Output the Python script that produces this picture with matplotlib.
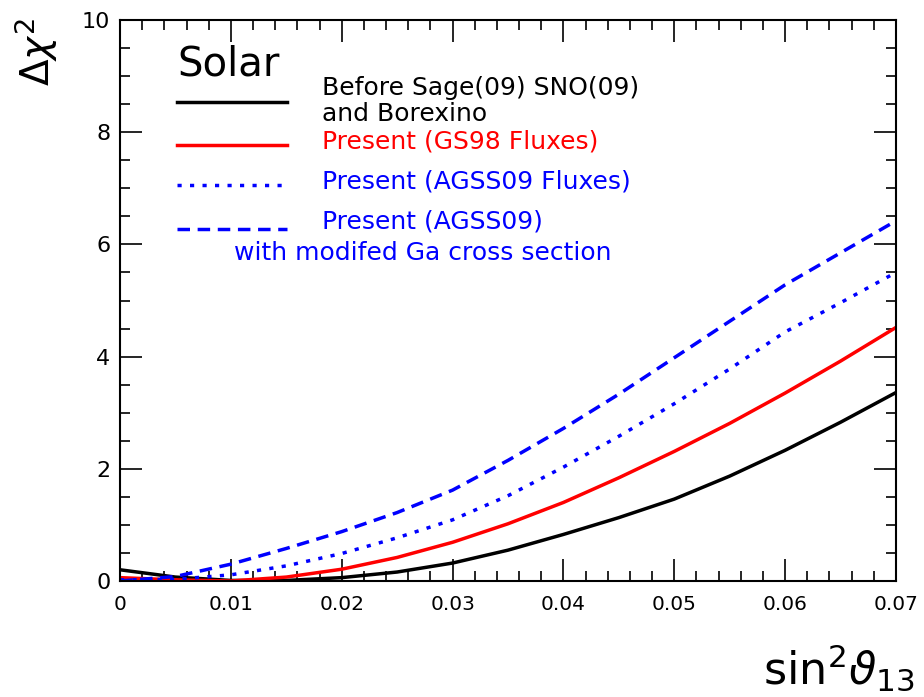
import numpy as np
import matplotlib
matplotlib.use("Agg")
import matplotlib.pyplot as plt
from matplotlib.ticker import MultipleLocator, FuncFormatter

plt.rcParams['font.family'] = ['DejaVu Sans']
plt.rcParams['mathtext.fontset'] = 'dejavusans'

# sin^2(theta13) grid and Delta chi^2 curves
s13 = [0, .005, .01, .015, .02, .025, .03, .035, .04, .045, .05, .055, .06, .065, .07]
before = [0.20, 0.07, 0.01, 0.01, 0.06, 0.16, 0.32, 0.55, 0.83, 1.13, 1.46, 1.87, 2.33, 2.83, 3.36]
gs98 = [0.06, 0.02, 0.0, 0.07, 0.21, 0.42, 0.69, 1.02, 1.40, 1.84, 2.31, 2.81, 3.35, 3.92, 4.52]
agss09 = [0.02, 0.03, 0.11, 0.27, 0.49, 0.77, 1.09, 1.52, 2.03, 2.58, 3.16, 3.78, 4.44, 4.96, 5.50]
agss09_ga = [0.0, 0.08, 0.30, 0.58, 0.88, 1.22, 1.62, 2.15, 2.72, 3.33, 3.98, 4.63, 5.28, 5.85, 6.42]

dotted = (0, (1.2, 2.4))
dashed = (0, (3.6, 2.2))

fig = plt.figure(figsize=(9.24, 6.97), dpi=100)
ax = fig.add_axes([120/924, 1-581/697, 776/924, 561/697])

lw = 2.5
ax.plot(s13, before, color='black', lw=lw)
ax.plot(s13, gs98, color='#ff0000', lw=lw)
ax.plot(s13, agss09, color='#0000ff', lw=lw, ls=dotted)
ax.plot(s13, agss09_ga, color='#0000ff', lw=lw, ls=dashed)

ax.set_xlim(0, 0.07)
ax.set_ylim(0, 10)
ax.xaxis.set_major_locator(MultipleLocator(0.01))
ax.xaxis.set_minor_locator(MultipleLocator(0.002))
ax.yaxis.set_major_locator(MultipleLocator(2))
ax.yaxis.set_minor_locator(MultipleLocator(0.5))
ax.xaxis.set_major_formatter(FuncFormatter(lambda v, p: '0' if abs(v) < 1e-9 else '%.2f' % v))
ax.yaxis.set_major_formatter(FuncFormatter(lambda v, p: '%d' % round(v)))

ax.tick_params(which='both', direction='in', top=True, right=True, width=1.2)
ax.tick_params(which='major', length=16)
ax.tick_params(which='minor', length=7.5)
ax.tick_params(axis='x', labelsize=14.5, pad=10)
ax.tick_params(axis='y', labelsize=16, pad=7)
for sp in ax.spines.values():
    sp.set_linewidth(1.5)

# legend drawn ROOT-style
tr = ax.transAxes
def fx(px):
    return (px - 120) / 776.0
def fy(py):
    return (581 - py) / 561.0

ax.text(fx(177), fy(75), 'Solar', fontsize=29, transform=tr, va='baseline')
keys = [(102, dict(color='black')),
        (145, dict(color='#ff0000')),
        (185, dict(color='#0000ff', ls=dotted)),
        (229, dict(color='#0000ff', ls=dashed))]
for py, kw in keys:
    ax.plot([fx(177), fx(287)], [fy(py), fy(py)], transform=tr, lw=lw, clip_on=False, **kw)

fs = 18
ax.text(fx(322), fy(95), 'Before Sage(09) SNO(09)', fontsize=fs, transform=tr, va='baseline', color='black')
ax.text(fx(322), fy(121), 'and Borexino', fontsize=fs, transform=tr, va='baseline', color='black')
ax.text(fx(322), fy(149), 'Present (GS98 Fluxes)', fontsize=fs, transform=tr, va='baseline', color='#ff0000')
ax.text(fx(322), fy(188), 'Present (AGSS09 Fluxes)', fontsize=fs, transform=tr, va='baseline', color='#0000ff')
ax.text(fx(322), fy(229), 'Present (AGSS09)', fontsize=fs, transform=tr, va='baseline', color='#0000ff')
ax.text(fx(234), fy(260), 'with modifed Ga cross section', fontsize=fs, transform=tr, va='baseline', color='#0000ff')

fig.text(915/924, 1-685/697, r'$\mathrm{sin}^2\vartheta_{13}$', fontsize=32, ha='right', va='baseline')
fig.text(36/924, 1-52/697, r'$\Delta\chi^2$', fontsize=28, ha='center', va='center', rotation=90)

fig.savefig('out.png', dpi=100)
